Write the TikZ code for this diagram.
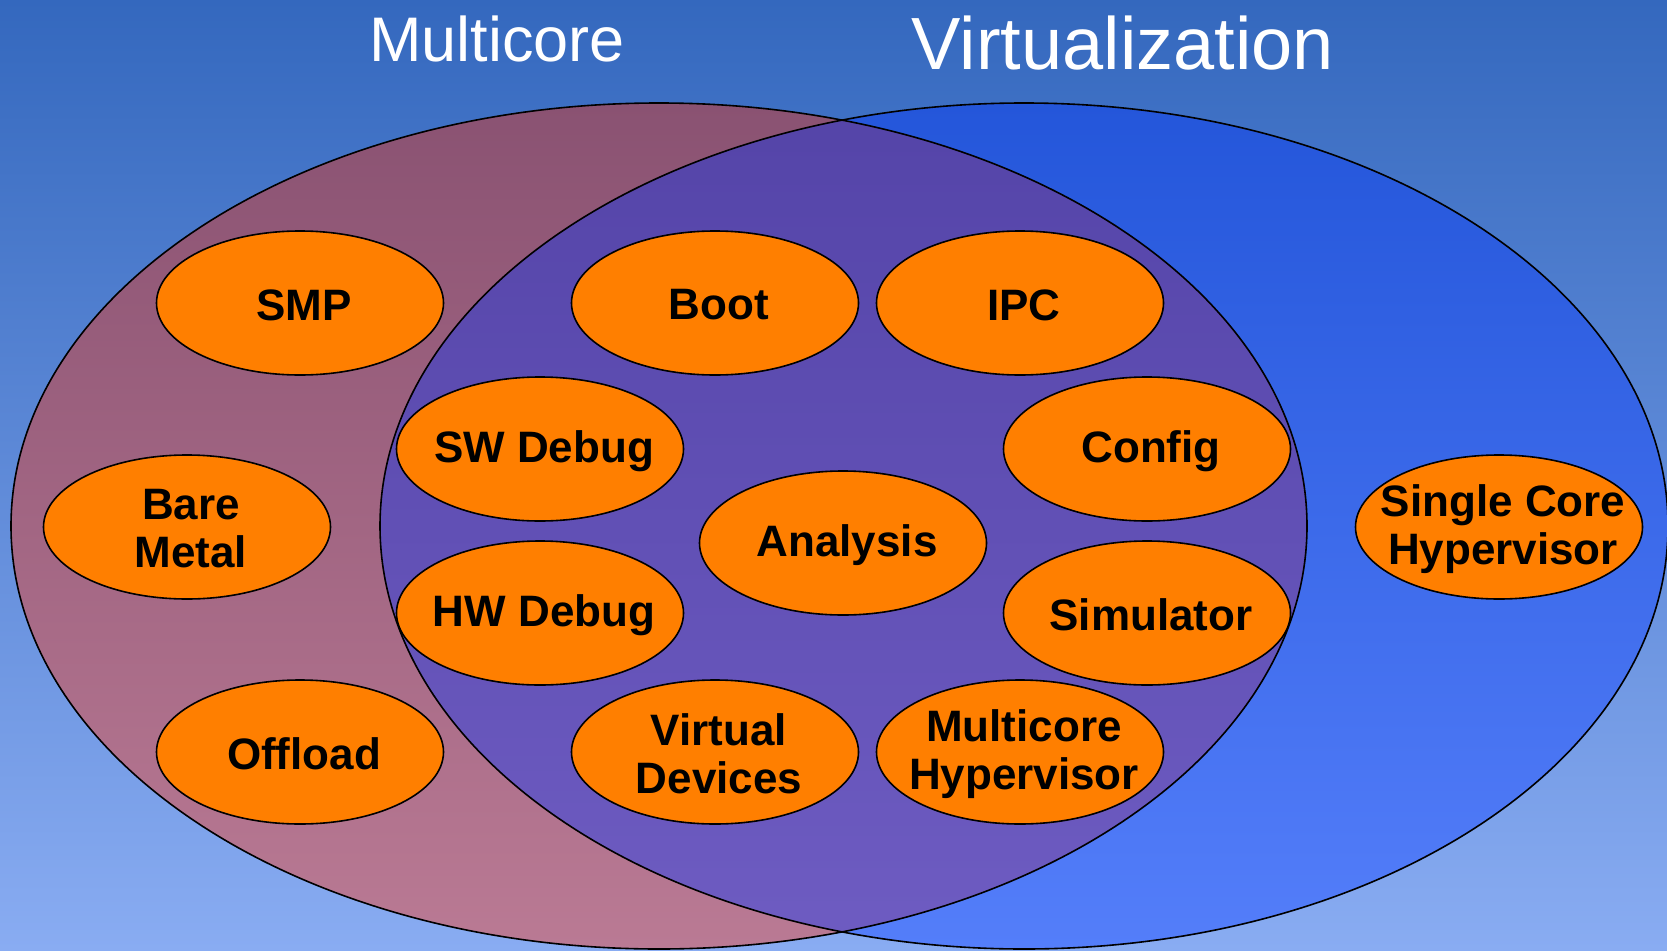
\documentclass[tikz,border=0pt]{standalone}
\usepackage{fontspec}
\setmainfont{Liberation Sans}
\usetikzlibrary{shapes.geometric}

\definecolor{bgtop}{RGB}{52,104,190}
\definecolor{bgbot}{RGB}{137,172,242}
\definecolor{multop}{RGB}{138,82,114}
\definecolor{mulbot}{RGB}{186,122,148}
\definecolor{virtop}{RGB}{36,86,218}
\definecolor{virbot}{RGB}{84,126,250}
\definecolor{bothtop}{RGB}{84,68,168}
\definecolor{bothbot}{RGB}{110,92,194}
\definecolor{blobfill}{RGB}{255,127,0}

\tikzset{
  blob/.style={ellipse, draw=black, line width=1.6pt, fill=blobfill,
    minimum width=287pt, minimum height=144pt, inner sep=0pt},
  blobtext/.style={font=\bfseries\fontsize{44}{48}\selectfont, align=center,
    text=black, inner sep=0pt, xshift=4pt, yshift=-2pt},
  settitle/.style={text=white, anchor=base, inner sep=0pt},
  setline/.style={draw=black, line width=1.6pt}
}

\begin{document}
\begin{tikzpicture}[x=1pt,y=-1pt]
  % background
  \shade[top color=bgtop, bottom color=bgbot] (0,0) rectangle (1667,950);
  \useasboundingbox (0,0) rectangle (1667,950);

  % the two sets
  \shade[top color=multop, bottom color=mulbot]
    (659,526) ellipse [x radius=648pt, y radius=423pt];
  \shade[top color=virtop, bottom color=virbot]
    (1024,526) ellipse [x radius=644pt, y radius=423pt];
  \begin{scope}
    \clip (659,526) ellipse [x radius=648pt, y radius=423pt];
    \shade[top color=bothtop, bottom color=bothbot]
      (1024,526) ellipse [x radius=644pt, y radius=423pt];
  \end{scope}
  \draw[setline] (659,526) ellipse [x radius=648pt, y radius=423pt];
  \draw[setline] (1024,526) ellipse [x radius=644pt, y radius=423pt];

  % set titles
  \node[settitle, font=\fontsize{63}{70}\selectfont] (tmulti) at (497,62) {Multicore};
  \node[settitle, font=\fontsize{74}{80}\selectfont] (tvirt) at (1123,70) {Virtualization};

  % topics
  \node[blob, label={[blobtext]center:SMP}] (smp) at (300,303) {};
  \node[blob, label={[blobtext]center:Boot}] (boot) at (715,303) {};
  \node[blob, label={[blobtext]center:IPC}] (ipc) at (1020,303) {};
  \node[blob, label={[blobtext]center:SW Debug}] (swdebug) at (540,449) {};
  \node[blob, label={[blobtext]center:Config}] (config) at (1147,449) {};
  \node[blob, label={[blobtext]center:{Bare\\Metal}}] (bare) at (187,527) {};
  \node[blob, label={[blobtext]center:Analysis}] (analysis) at (843,543) {};
  \node[blob, label={[blobtext]center:{Single Core\\Hypervisor}}] (single) at (1499,527) {};
  \node[blob, label={[blobtext]center:HW Debug}] (hwdebug) at (540,613) {};
  \node[blob, label={[blobtext]center:Simulator}] (sim) at (1147,613) {};
  \node[blob, label={[blobtext]center:Offload}] (offload) at (300,752) {};
  \node[blob, label={[blobtext]center:{Virtual\\Devices}}] (vdev) at (715,752) {};
  \node[blob, label={[blobtext]center:{Multicore\\Hypervisor}}] (mhyp) at (1020,752) {};
\end{tikzpicture}
\end{document}
